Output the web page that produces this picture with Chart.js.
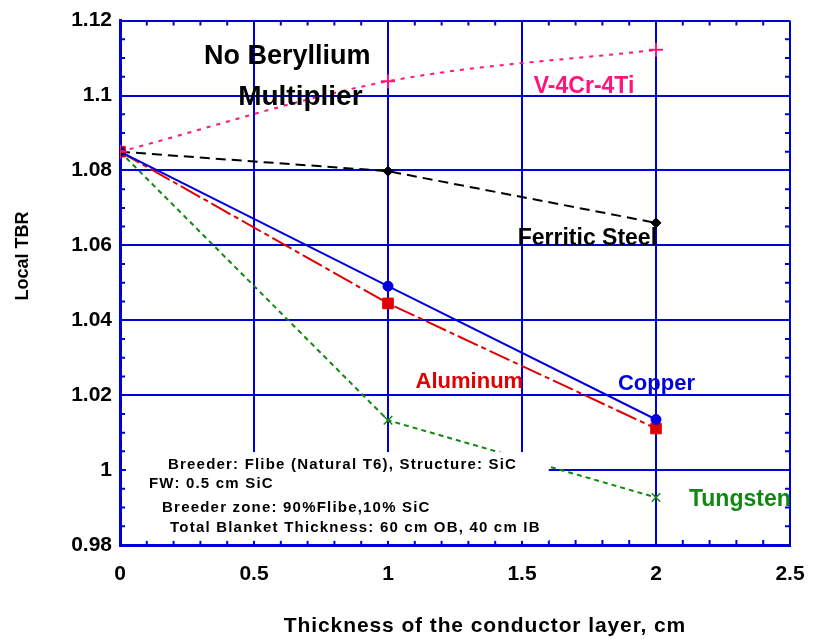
<!DOCTYPE html>
<html>
<head>
<meta charset="utf-8">
<script src="https://cdn.jsdelivr.net/npm/chart.js@4.4.1/dist/chart.umd.min.js"></script>
<style>
  html, body { margin: 0; padding: 0; background: #fff; }
  #wrap { width: 817px; height: 639px; }
</style>
</head>
<body>
<div id="wrap"><canvas id="tbrChart" width="817" height="639"></canvas></div>
<script>
// Données du graphique
var thickness = [0, 1, 2];
var vanadium = [1.085, 1.1038, 1.1122];
var ferritic = [1.085, 1.0798, 1.066];
var copper = [1.085, 1.0491, 1.0135];
var aluminum = [1.085, 1.0445, 1.0111];
var tungsten = [1.085, 1.0133, 0.9927];

var xTicks = [0, 0.5, 1, 1.5, 2, 2.5];
var yTicks = [0.98, 1, 1.02, 1.04, 1.06, 1.08, 1.1, 1.12];

var seriesLabels = ['V-4Cr-4Ti', 'Ferritic Steel', 'Copper', 'Aluminum', 'Tungsten'];

var gridBlue = '#0000d8';
var fontFam = "Arial, 'Liberation Sans', sans-serif";

function toPoints(ys) {
  return thickness.map(function(x, i) { return { x: x, y: ys[i] }; });
}

var data = {
  datasets: [{
    label: seriesLabels[0],
    data: toPoints(vanadium),
    borderColor: '#ff1478',
    backgroundColor: '#ff1478',
    borderWidth: 2,
    borderDash: [4, 6],
    pointStyle: 'cross',
    pointRadius: 7,
    pointBorderWidth: 2,
    cubicInterpolationMode: 'monotone'
  }, {
    label: seriesLabels[1],
    data: toPoints(ferritic),
    borderColor: '#000',
    backgroundColor: '#000',
    borderWidth: 2,
    borderDash: [10, 6],
    pointStyle: 'rectRot',
    pointRadius: 5,
    pointBorderWidth: 1,
    tension: 0
  }, {
    label: seriesLabels[2],
    data: toPoints(copper),
    borderColor: '#0000dd',
    backgroundColor: '#0000dd',
    borderWidth: 2,
    pointStyle: 'circle',
    pointRadius: 5,
    pointBorderWidth: 1,
    tension: 0
  }, {
    label: seriesLabels[3],
    data: toPoints(aluminum),
    borderColor: '#e00000',
    backgroundColor: '#e00000',
    borderWidth: 2,
    borderDash: [22, 4, 5, 4],
    pointStyle: 'rect',
    pointRadius: 7.5,
    pointBorderWidth: 1,
    tension: 0
  }, {
    label: seriesLabels[4],
    data: toPoints(tungsten),
    borderColor: '#118811',
    backgroundColor: '#118811',
    borderWidth: 2,
    borderDash: [5, 4],
    pointStyle: 'crossRot',
    pointRadius: 6,
    pointBorderWidth: 1.5,
    tension: 0
  }]
};

// Textes posés sur le graphique (coordonnées en unités des axes)
var labels = [
  { text: 'No Beryllium', x: 0.624, y: 1.1083, color: '#000', size: 27, align: 'center' },
  { text: 'Multiplier', x: 0.673, y: 1.0976, color: '#000', size: 28, align: 'center' },
  { text: 'V-4Cr-4Ti', x: 1.544, y: 1.1008, color: '#ff1478', size: 23, align: 'left' },
  { text: 'Ferritic Steel', x: 1.484, y: 1.060, color: '#000', size: 23, align: 'left' },
  { text: 'Aluminum', x: 1.103, y: 1.0219, color: '#e00000', size: 22, align: 'left' },
  { text: 'Copper', x: 1.858, y: 1.0213, color: '#0000dd', size: 22, align: 'left' },
  { text: 'Tungsten', x: 2.123, y: 0.9904, color: '#118811', size: 23, align: 'left' }
];

var boxLines = [
  { text: 'Breeder: Flibe (Natural T6), Structure: SiC', x: 0.179, y: 1.00133 },
  { text: 'FW: 0.5 cm SiC', x: 0.108, y: 0.99627 },
  { text: 'Breeder zone: 90%Flibe,10% SiC', x: 0.157, y: 0.98987 },
  { text: 'Total Blanket Thickness: 60 cm OB, 40 cm IB', x: 0.187, y: 0.98453 }
];

// petits traits intérieurs sur les 4 côtés
var minorTicks = {
  id: 'minorTicks',
  beforeDatasetsDraw: function(chart) {
    var ctx = chart.ctx, a = chart.chartArea;
    var sx = chart.scales.x, sy = chart.scales.y;
    ctx.save();
    ctx.strokeStyle = gridBlue;
    ctx.lineWidth = 2;
    ctx.beginPath();
    for (var i = 1; i < 25; i++) {
      if (i % 5 === 0) continue;
      var px = sx.getPixelForValue(i / 10);
      ctx.moveTo(px, a.bottom); ctx.lineTo(px, a.bottom - 5);
      ctx.moveTo(px, a.top); ctx.lineTo(px, a.top + 5);
    }
    for (var j = 1; j < 28; j++) {
      if (j % 4 === 0) continue;
      var py = sy.getPixelForValue(0.98 + j * 0.005);
      ctx.moveTo(a.left, py); ctx.lineTo(a.left + 5, py);
      ctx.moveTo(a.right, py); ctx.lineTo(a.right - 5, py);
    }
    ctx.stroke();
    ctx.restore();
  }
};

var textPlugin = {
  id: 'textPlugin',
  afterDatasetsDraw: function(chart) {
    var ctx = chart.ctx;
    var sx = chart.scales.x, sy = chart.scales.y;
    ctx.save();
    // cadre blanc du texte en bas
    var bx0 = sx.getPixelForValue(0.022), bx1 = sx.getPixelForValue(1.6);
    var by0 = sy.getPixelForValue(1.0048), by1 = sy.getPixelForValue(0.9811);
    ctx.fillStyle = '#fff';
    ctx.fillRect(bx0, by0, bx1 - bx0, by1 - by0);

    ctx.fillStyle = '#000';
    ctx.font = 'bold 15px ' + fontFam;
    ctx.letterSpacing = '1.2px';
    ctx.textAlign = 'left';
    ctx.textBaseline = 'middle';
    boxLines.forEach(function(l) {
      ctx.fillText(l.text, sx.getPixelForValue(l.x), sy.getPixelForValue(l.y));
    });
    ctx.letterSpacing = '0px';

    ctx.textBaseline = 'alphabetic';
    labels.forEach(function(l) {
      ctx.fillStyle = l.color;
      ctx.font = 'bold ' + l.size + 'px ' + fontFam;
      ctx.textAlign = l.align;
      ctx.fillText(l.text, sx.getPixelForValue(l.x), sy.getPixelForValue(l.y));
    });

    // titres des axes
    ctx.fillStyle = '#000';
    ctx.font = 'bold 21px ' + fontFam;
    ctx.letterSpacing = '0.9px';
    ctx.textAlign = 'center';
    ctx.textBaseline = 'middle';
    ctx.fillText('Thickness of the conductor layer, cm', 485, 626);
    ctx.letterSpacing = '0px';
    ctx.translate(23, 256);
    ctx.rotate(-Math.PI / 2);
    ctx.font = 'bold 18px ' + fontFam;
    ctx.fillText('Local TBR', 0, 0);
    ctx.restore();
  }
};

var options = {
  responsive: false,
  animation: false,
  showLine: true,
  layout: { padding: { left: 0, top: 20, right: 27, bottom: 0 } },
  plugins: {
    legend: { display: false },
    tooltip: { enabled: false }
  },
  scales: {
    x: {
      type: 'linear',
      min: 0,
      max: 2.5,
      afterBuildTicks: function(scale) {
        scale.ticks = xTicks.map(function(v) { return { value: v }; });
      },
      afterFit: function(scale) {
        scale.height = 94;
        scale.paddingLeft = 0;
        scale.paddingRight = 0;
      },
      ticks: {
        color: '#000',
        padding: 17,
        font: { family: fontFam, size: 21, weight: 'bold' },
        callback: function(v) { return String(v); }
      },
      grid: { color: gridBlue, lineWidth: 2, drawTicks: false },
      border: { color: gridBlue, width: 3 }
    },
    y: {
      type: 'linear',
      min: 0.98,
      max: 1.12,
      afterBuildTicks: function(scale) {
        scale.ticks = yTicks.map(function(v) { return { value: v }; });
      },
      afterFit: function(scale) { scale.width = 120; },
      ticks: {
        color: '#000',
        padding: 8,
        font: { family: fontFam, size: 21, weight: 'bold' },
        callback: function(v) { return String(Math.round(v * 100) / 100); }
      },
      grid: { color: gridBlue, lineWidth: 2, drawTicks: false },
      border: { color: gridBlue, width: 3 }
    }
  }
};

// Créer le graphique
var ctx = document.getElementById('tbrChart').getContext('2d');
var tbrChart = new Chart(ctx, {
  type: 'scatter',
  data: data,
  options: options,
  plugins: [minorTicks, textPlugin]
});
</script>
</body>
</html>
